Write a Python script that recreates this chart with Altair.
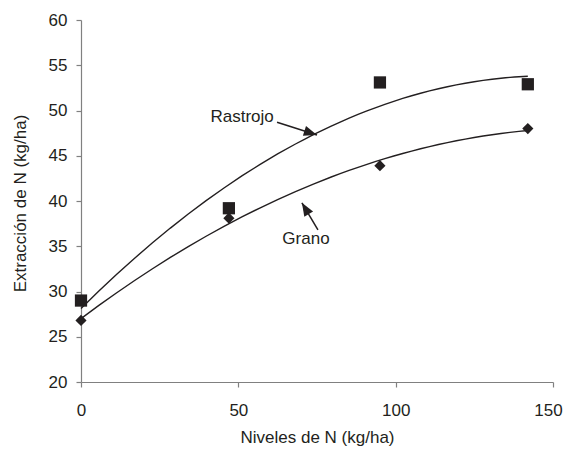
import altair as alt
import pandas as pd

# Data
niveles = [0, 47, 95, 142]
rastrojo = [29.0, 39.2, 53.1, 52.9]
grano = [26.8, 38.1, 43.9, 48.0]
series = ["Rastrojo", "Grano"]
x_ticks = [0, 50, 100, 150]
y_ticks = [20, 25, 30, 35, 40, 45, 50, 55, 60]

# Annotation labels and arrows (data coordinates)
ann_text = ["Rastrojo", "Grano"]
ann_text_x = [51.2, 71.5]
ann_text_y = [49.3, 35.8]
arrow_x0 = [62.3, 75.3]
arrow_y0 = [48.7, 36.8]
arrow_x1 = [75.0, 70.2]
arrow_y1 = [47.3, 39.8]
arrow_angle = [18, 239]

FONT = "Liberation Sans"
INK = "#231f20"
AXIS = "#808080"

df = pd.DataFrame({
    "N": niveles * 2,
    "E": rastrojo + grano,
    "serie": [series[0]] * len(niveles) + [series[1]] * len(niveles),
})
ann = pd.DataFrame({"t": ann_text, "x": ann_text_x, "y": ann_text_y})
arr = pd.DataFrame({"x0": arrow_x0, "y0": arrow_y0, "x1": arrow_x1,
                    "y1": arrow_y1, "a": arrow_angle})

xscale = alt.Scale(domain=[0, 150], nice=False, zero=False)
yscale = alt.Scale(domain=[20, 60], nice=False, zero=False)

xaxis = alt.Axis(values=x_ticks, title="Niveles de N (kg/ha)", grid=False,
                 tickSize=5, labelPadding=28, labelBaseline="alphabetic",
                 labelFlush=False,
                 labelOffset={"condition": {"test": "datum.value == 150", "value": -5}, "value": 0},
                 titleY=60, titleBaseline="alphabetic")
yaxis = alt.Axis(values=y_ticks, title="Extracción de N (kg/ha)", grid=False,
                 tickSize=5, labelPadding=9, titleX=-56, titleY=183,
                 titleBaseline="alphabetic")

base = alt.Chart(df)

lines = base.transform_regression(
    "N", "E", method="poly", order=2, groupby=["serie"]
).mark_line(color=INK, strokeWidth=1.4).encode(
    x=alt.X("N:Q", scale=xscale, axis=xaxis),
    y=alt.Y("E:Q", scale=yscale, axis=yaxis),
    detail="serie:N",
)

points = base.mark_point(filled=True, opacity=1, color=INK).encode(
    x=alt.X("N:Q", scale=xscale),
    y=alt.Y("E:Q", scale=yscale),
    shape=alt.Shape("serie:N", scale=alt.Scale(domain=series, range=["square", "diamond"]), legend=None),
    size=alt.Size("serie:N", scale=alt.Scale(domain=series, range=[150, 125]), legend=None),
)

labels = alt.Chart(ann).mark_text(font=FONT, fontSize=17, color=INK, baseline="middle").encode(
    x=alt.X("x:Q", scale=xscale), y=alt.Y("y:Q", scale=yscale), text="t:N"
)

shafts = alt.Chart(arr).mark_rule(color=INK, strokeWidth=1.5).encode(
    x=alt.X("x0:Q", scale=xscale), y=alt.Y("y0:Q", scale=yscale),
    x2="x1:Q", y2="y1:Q",
)

heads = alt.Chart(arr).mark_point(
    shape="M0,0 L-2.2,-0.85 L-2.2,0.85 Z", filled=True, opacity=1, color=INK, size=144
).encode(
    x=alt.X("x1:Q", scale=xscale), y=alt.Y("y1:Q", scale=yscale),
    angle=alt.Angle("a:Q", scale=None),
)

chart = alt.layer(lines, points, shafts, heads, labels).properties(
    width=472, height=362,
    autosize=alt.AutoSizeParams(type="none"),
    padding={"left": 73, "top": 12, "right": 10, "bottom": 65},
).configure_view(stroke=None).configure_axis(
    domainColor=AXIS, tickColor=AXIS, domainWidth=1.2, tickWidth=1.2,
    labelFont=FONT, titleFont=FONT, labelFontSize=17, titleFontSize=17,
    labelColor=INK, titleColor=INK, titleFontWeight="normal",
)

chart.save("out.html", embed_options={"renderer": "svg", "actions": False})
